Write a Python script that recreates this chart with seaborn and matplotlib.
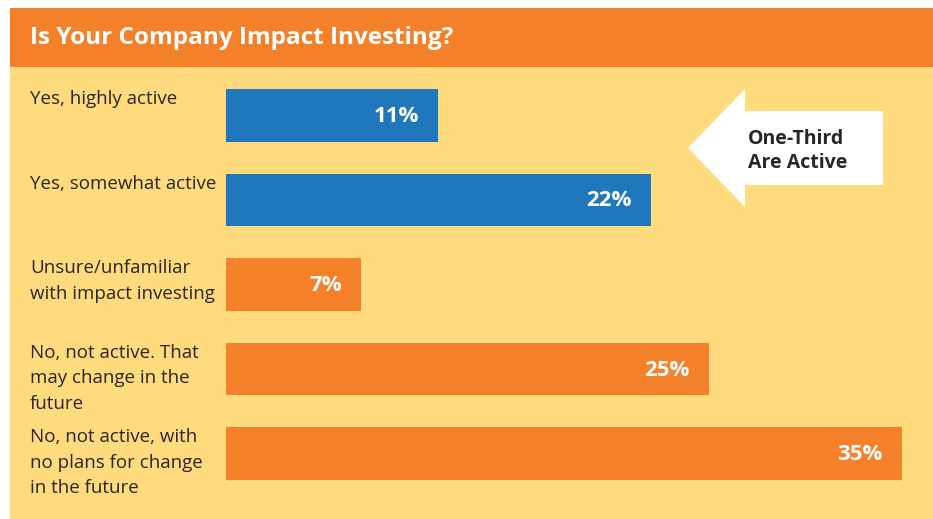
import matplotlib
matplotlib.use("Agg")
import matplotlib.pyplot as plt
import matplotlib.transforms as mtransforms
from matplotlib.patches import Rectangle, Polygon
import seaborn as sns
import pandas as pd

categories = [
    "Yes, highly active",
    "Yes, somewhat active",
    "Unsure/unfamiliar\nwith impact investing",
    "No, not active. That\nmay change in the\nfuture",
    "No, not active, with\nno plans for change\nin the future",
]
values = [11, 22, 7, 25, 35]
groups = ["active", "active", "other", "other", "other"]

title = "Is Your Company Impact Investing?"
callout = "One-Third\nAre Active"

ORANGE = "#F5802A"
YELLOW = "#FFDB7E"
BLUE = "#1F77BC"
DARK = "#2A2526"

sns.set_theme(style="white")
plt.rcParams["font.family"] = ["Open Sans", "DejaVu Sans"]

W, H = 933, 519
fig = plt.figure(figsize=(W / 100, H / 100), dpi=100, facecolor="white")

def fx(px):
    return px / W

def fy(py):
    return 1 - py / H

# background panels
fig.patches.append(Rectangle((fx(10), fy(519)), fx(923), (519 - 67) / H,
                             transform=fig.transFigure, facecolor=YELLOW, edgecolor="none", zorder=-2))
fig.patches.append(Rectangle((fx(10), fy(67)), fx(923), (67 - 8) / H,
                             transform=fig.transFigure, facecolor=ORANGE, edgecolor="none", zorder=-2))

fig.text(fx(30), fy(38), title, color="white", fontsize=17.5, fontweight="bold",
         va="center", ha="left")

# bars axes: x 0..35 -> px 226..902, centers 115.5 + 84.5*i
x0, x1 = 226, 902
top_px = 115.5 - 84.5 * 0.5
bot_px = 453.5 + 84.5 * 0.5
ax = fig.add_axes([fx(x0), fy(bot_px), fx(x1 - x0), (bot_px - top_px) / H])
ax.set_facecolor("none")
ax.set_zorder(1)

df = pd.DataFrame({"cat": categories, "val": values, "grp": groups})
sns.barplot(data=df, x="val", y="cat", hue="grp", palette={"active": BLUE, "other": ORANGE},
            orient="h", width=0.627, dodge=False, legend=False, ax=ax, saturation=1,
            linewidth=0, edgecolor="none")
ax.set_xlim(0, 35)
ax.set_ylim(4.5, -0.5)
ax.axis("off")

bh = 0.627
lab_tr = mtransforms.blended_transform_factory(fig.transFigure, ax.transData)
lab_tr = mtransforms.offset_copy(lab_tr, fig=fig, x=0, y=-1, units="dots")
for i, c in enumerate(categories):
    ax.text(fx(30), i - bh / 2, c, transform=lab_tr, ha="left", va="top",
            fontsize=13.5, color=DARK, linespacing=1.55, clip_on=False)

val_tr = mtransforms.offset_copy(ax.transData, fig=fig, x=-19, y=-1, units="dots")
for i, v in enumerate(values):
    ax.text(v, i, f"{v}%", transform=val_tr, ha="right", va="center",
            fontsize=16, fontweight="bold", color="white")

# callout arrow
pts = [(688, 148), (745, 89), (745, 111), (883, 111), (883, 185), (745, 185), (745, 207)]
fig.patches.append(Polygon([(fx(x), fy(y)) for x, y in pts], closed=True,
                           transform=fig.transFigure, facecolor="white", edgecolor="none", zorder=-1))
fig.text(fx(748), fy(151), callout, color=DARK, fontsize=14, fontweight="bold",
         ha="left", va="center", linespacing=1.3, zorder=2)

fig.savefig("out.png", dpi=100, facecolor="white")
